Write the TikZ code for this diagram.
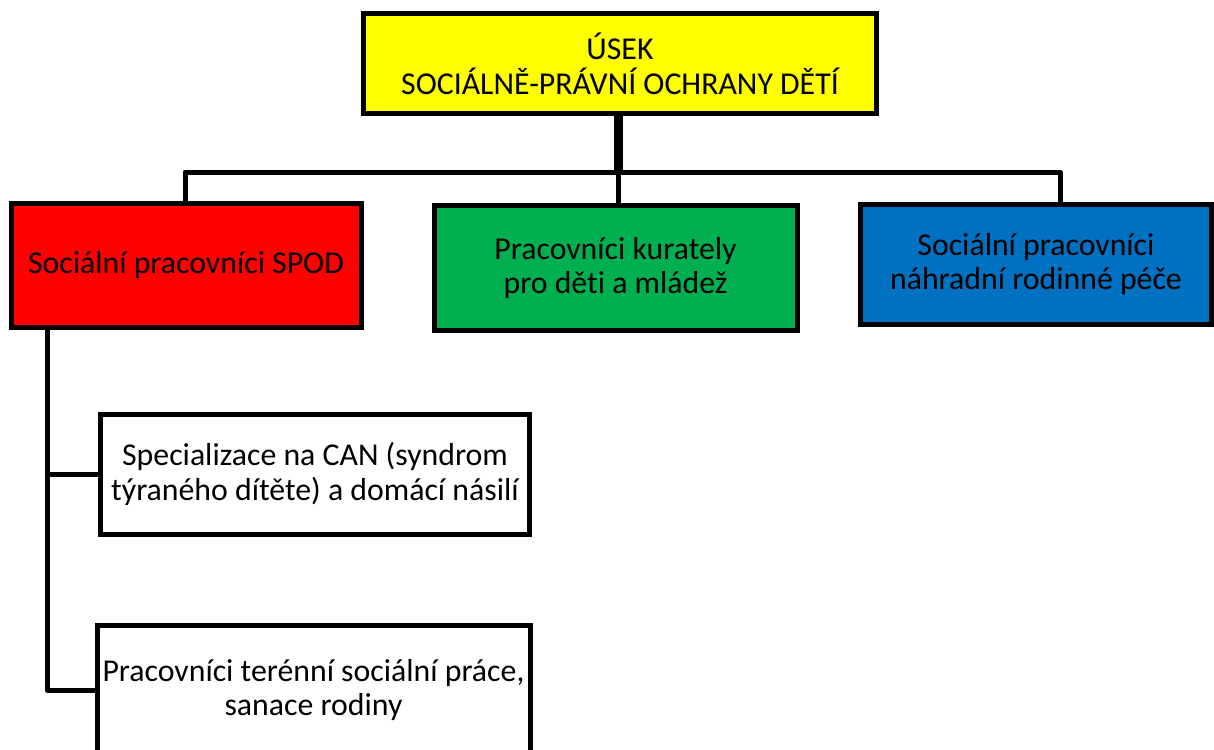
\documentclass[tikz,border=0pt]{standalone}
\usepackage{fontspec}
\setmainfont[Ligatures=NoCommon]{Carlito}
\definecolor{yel}{HTML}{FFFF00}
\definecolor{redc}{HTML}{FF0000}
\definecolor{grn}{HTML}{00B050}
\definecolor{blu}{HTML}{0070C0}
\begin{document}
\begin{tikzpicture}[x=1pt,y=-1pt,
  box/.style={draw=black, line width=5pt, rectangle, align=center, inner sep=0pt,
    font=\fontsize{31.8}{34.5}\selectfont, text=black},
  conn/.style={draw=black, line width=5pt, line join=round}]
\useasboundingbox (0,0) rectangle (1214,749);
\node[box, fill=yel, minimum width=513pt, minimum height=100pt] (top) at (620,64) {ÚSEK\\SOCIÁLNĚ-PRÁVNÍ OCHRANY DĚTÍ};
\node[box, fill=redc, minimum width=350pt, minimum height=124pt] (red) at (186,265) {Sociální pracovníci SPOD};
\node[box, fill=grn, minimum width=363pt, minimum height=125pt] (green) at (615.5,268) {Pracovníci kurately\\pro děti a mládež};
\node[box, fill=blu, minimum width=351pt, minimum height=120pt] (blue) at (1036,264) {Sociální pracovníci\\náhradní rodinné péče};
\node[box, fill=white, minimum width=429pt, minimum height=120pt] (b1) at (315,474) {Specializace na CAN (syndrom\\týraného dítěte) a domácí násilí};
\node[box, fill=white, minimum width=433pt, minimum height=130pt] (b2) at (313.5,690) {Pracovníci terénní sociální práce,\\sanace rodiny};
\coordinate (j) at (618,172);
\coordinate (jl) at (185,172);
\coordinate (jr) at (1060,172);
\coordinate (lv) at (47,0);
\draw[conn] (jl |- red.north) -- (jl) -- (jr) -- (jr |- blue.north);
\draw[conn] (j) -- (j |- green.north);
\draw[line width=9pt] (j |- top.south) -- ([yshift=2pt]j);
\draw[conn] (lv |- red.south) -- (lv |- b2.west) -- (b2.west);
\draw[conn] (lv |- b1.west) -- (b1.west);
\end{tikzpicture}
\end{document}
